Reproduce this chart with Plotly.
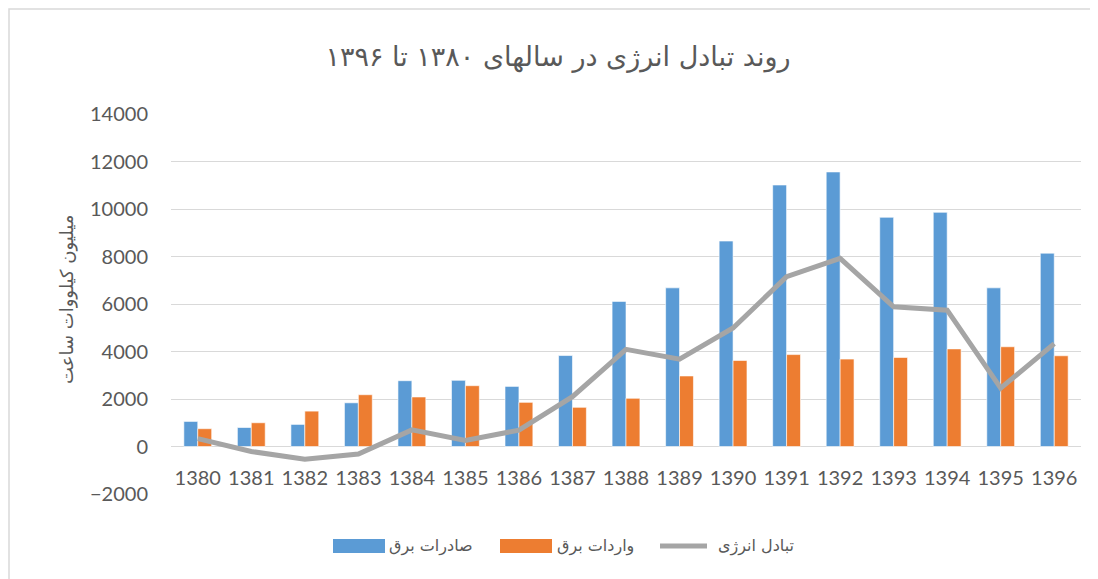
import plotly.graph_objects as go

years = ["1380", "1381", "1382", "1383", "1384", "1385", "1386", "1387", "1388",
         "1389", "1390", "1391", "1392", "1393", "1394", "1395", "1396"]
exports = [1055, 800, 930, 1840, 2770, 2785, 2530, 3830, 6110, 6680, 8650, 11010,
           11560, 9650, 9860, 6680, 8140]
imports = [750, 1000, 1490, 2180, 2085, 2560, 1860, 1650, 2030, 2970, 3620, 3870,
           3680, 3750, 4110, 4200, 3820]
exchange = [330, -210, -540, -320, 700, 250, 690, 2100, 4090, 3680, 4990, 7150,
            7920, 5880, 5740, 2460, 4330]

title_text = "روند تبادل انرژی در سالهای ۱۳۸۰ تا ۱۳۹۶"
ytitle_text = "میلیون کیلووات ساعت"
name_exports = "صادرات برق"
name_imports = "واردات برق"
name_exchange = "تبادل انرژی"

C_EXP, C_IMP, C_EXC = "#5B9BD5", "#ED7D31", "#A5A5A5"

OFF = 8  # page body margin
W, H = 1098, 579
# plot area in screen coordinates: x 171..1081, y 114..494
L = 171 - OFF
T = 114 - OFF
R = W - (1081 - OFF)
B = H - (494 - OFF)
pw, ph = W - L - R, H - T - B


def px(x):
    return (x - OFF - L) / pw


def py(y):
    return (H - B - (y - OFF)) / ph


fa_font = "DejaVu Sans, Noto Sans, sans-serif"
num_font = "Lato, Carlito, Open Sans, sans-serif"
txt_col = "#595959"

fig = go.Figure()
fig.add_trace(go.Bar(x=years, y=exports, name=name_exports, showlegend=False,
                     marker=dict(color=C_EXP, line=dict(color="#ffffff", width=0.6))))
fig.add_trace(go.Bar(x=years, y=imports, name=name_imports, showlegend=False,
                     marker=dict(color=C_IMP, line=dict(color="#ffffff", width=0.6))))
fig.add_trace(go.Scatter(x=years, y=exchange, name=name_exchange, mode="lines",
                         showlegend=False, line=dict(color=C_EXC, width=5)))

# custom legend (screen coordinates)
legend_items = [
    ("rect", C_EXP, 333, 385, name_exports, 431),
    ("rect", C_IMP, 500, 552, name_imports, 595),
    ("line", C_EXC, 660, 707, name_exchange, 756),
]
ly = 546
shapes = [dict(type="rect", xref="paper", yref="paper",
               x0=px(9), x1=px(1115), y0=py(595), y1=py(9),
               line=dict(color="#D9D9D9", width=1.5), fillcolor="rgba(0,0,0,0)",
               layer="below")]
annotations = [dict(text=ytitle_text, textangle=-90, x=px(67), y=py(300),
                    xref="paper", yref="paper", showarrow=False,
                    xanchor="center", yanchor="middle",
                    font=dict(family=fa_font, size=18, color=txt_col))]
for kind, col, x0, x1, label, tx in legend_items:
    if kind == "rect":
        shapes.append(dict(type="rect", xref="paper", yref="paper",
                           x0=px(x0), x1=px(x1), y0=py(ly + 7), y1=py(ly - 7),
                           line=dict(width=0), fillcolor=col))
    else:
        shapes.append(dict(type="line", xref="paper", yref="paper",
                           x0=px(x0), x1=px(x1), y0=py(ly), y1=py(ly),
                           line=dict(color=col, width=5)))
    annotations.append(dict(text=label, x=px(tx), y=py(ly), xref="paper", yref="paper",
                            showarrow=False, xanchor="center", yanchor="middle",
                            font=dict(family=fa_font, size=16, color=txt_col)))

fig.update_layout(
    width=W, height=H,
    margin=dict(l=L, r=R, t=T, b=B),
    paper_bgcolor="white", plot_bgcolor="white",
    barmode="group", bargap=0.48, bargroupgap=0,
    title=dict(text=title_text, x=(558 - OFF) / W, y=1 - (57 - OFF) / H,
               xref="container", yref="container",
               xanchor="center", yanchor="middle",
               font=dict(family=fa_font, size=27, color=txt_col)),
    showlegend=False,
    xaxis=dict(type="category", range=[-0.5, 16.5], showgrid=False, zeroline=False,
               showline=False, ticks="", anchor="free", position=py(447),
               tickfont=dict(family=num_font, size=20, color=txt_col),
               ticklabelstandoff=17),
    yaxis=dict(range=[-2000, 14000], dtick=2000, tickformat="d", showgrid=True,
               gridcolor="#D9D9D9", gridwidth=1, zeroline=True,
               zerolinecolor="#D9D9D9", zerolinewidth=1,
               showline=False, ticks="",
               tickfont=dict(family=num_font, size=20, color=txt_col),
               ticklabelstandoff=22),
    annotations=annotations,
    shapes=shapes,
)

fig.write_html("out.html")
